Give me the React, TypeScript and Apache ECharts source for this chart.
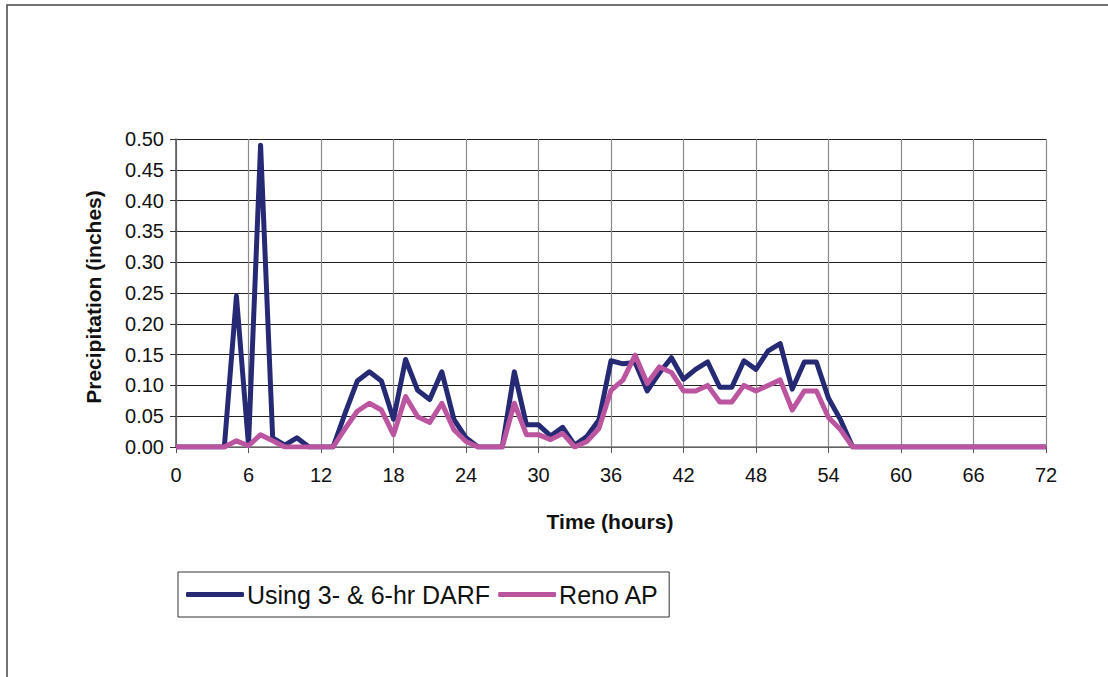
import React, { useEffect, useRef } from "react";
import * as echarts from "echarts";

const hours: number[] = Array.from({ length: 73 }, (_, i) => i);

const darf: number[] = [
  0, 0, 0, 0, 0, 0.245, 0.003, 0.49, 0.015, 0.003, 0.015, 0, 0,
  0, 0.055, 0.107, 0.122, 0.107, 0.045, 0.142, 0.092, 0.077, 0.122, 0.045, 0.015,
  0, 0, 0, 0.122, 0.036, 0.036, 0.018, 0.032, 0.003, 0.017, 0.044, 0.14,
  0.135, 0.137, 0.091, 0.12, 0.145, 0.11, 0.126, 0.138, 0.097, 0.097, 0.14, 0.126,
  0.156, 0.168, 0.094, 0.138, 0.138, 0.079, 0.044, 0,
  0, 0, 0, 0, 0, 0, 0, 0, 0, 0, 0, 0, 0, 0, 0, 0,
];

const reno: number[] = [
  0, 0, 0, 0, 0, 0.01, 0.002, 0.02, 0.01, 0, 0, 0, 0,
  0, 0.03, 0.058, 0.071, 0.06, 0.02, 0.082, 0.049, 0.04, 0.071, 0.028, 0.009,
  0, 0, 0, 0.071, 0.02, 0.02, 0.012, 0.022, 0, 0.009, 0.03, 0.092,
  0.109, 0.149, 0.103, 0.13, 0.121, 0.091, 0.091, 0.1, 0.073, 0.073, 0.1, 0.091,
  0.1, 0.109, 0.06, 0.091, 0.091, 0.048, 0.028, 0,
  0, 0, 0, 0, 0, 0, 0, 0, 0, 0, 0, 0, 0, 0, 0, 0,
];

const seriesNames: string[] = ["Using 3- & 6-hr DARF", "Reno AP"];
const xTitle = "Time (hours)";
const yTitle = "Precipitation (inches)";

const FONT = 'Arial, "Liberation Sans", sans-serif';
const DARK = "#262a74";
const PINK = "#bc55a0";

export default function App() {
  const ref = useRef<HTMLDivElement>(null);

  useEffect(() => {
    if (!ref.current) return;
    const chart = echarts.init(ref.current, undefined, { renderer: "svg" });
    chart.setOption({
      animation: false,
      backgroundColor: "#ffffff",
      textStyle: { fontFamily: FONT },
      grid: { left: 176, top: 139, width: 870, height: 308, containLabel: false },
      xAxis: {
        type: "value",
        min: 0,
        max: 72,
        interval: 6,
        axisLine: { show: true, lineStyle: { color: "#777", width: 1.5 } },
        axisTick: { show: true, length: 6, lineStyle: { color: "#555", width: 1 } },
        axisLabel: { color: "#111", fontSize: 20, margin: 18, fontFamily: FONT },
        splitLine: { show: true, lineStyle: { color: "#8a8a8a", width: 1.2 } },
      },
      yAxis: {
        type: "value",
        min: 0,
        max: 0.5,
        interval: 0.05,
        axisLine: { show: true, lineStyle: { color: "#555", width: 1.5 } },
        axisTick: { show: true, length: 6, lineStyle: { color: "#333", width: 1 } },
        axisLabel: {
          color: "#111",
          fontSize: 20,
          margin: 12,
          fontFamily: FONT,
          formatter: (v: number) => v.toFixed(2),
        },
        splitLine: { show: true, lineStyle: { color: "#222", width: 1.2 } },
      },
      legend: {
        left: 178,
        top: 572,
        orient: "horizontal",
        padding: [10, 10, 10, 8],
        itemGap: 8,
        itemWidth: 58,
        itemHeight: 5,
        icon: "roundRect",
        borderColor: "#333",
        borderWidth: 1,
        textStyle: { fontSize: 25, color: "#111", fontFamily: FONT, padding: [0, 0, 0, -2] },
        data: seriesNames,
      },
      graphic: [
        {
          type: "rect",
          silent: true,
          shape: { x: 7, y: 5, width: 1140, height: 720 },
          style: { fill: "none", stroke: "#444", lineWidth: 1.5 },
        },
        {
          type: "text",
          x: 610,
          y: 521,
          style: {
            text: xTitle,
            font: `bold 21px ${FONT}`,
            fill: "#111",
            textAlign: "center",
            textVerticalAlign: "middle",
          },
        },
        {
          type: "text",
          x: 93,
          y: 297,
          rotation: Math.PI / 2,
          style: {
            text: yTitle,
            font: `bold 21px ${FONT}`,
            fill: "#111",
            textAlign: "center",
            textVerticalAlign: "middle",
          },
        },
      ],
      series: [
        {
          name: seriesNames[0],
          type: "line",
          symbol: "none",
          data: hours.map((h, i) => [h, darf[i]]),
          lineStyle: { color: DARK, width: 5, join: "round" },
          itemStyle: { color: DARK },
        },
        {
          name: seriesNames[1],
          type: "line",
          symbol: "none",
          data: hours.map((h, i) => [h, reno[i]]),
          lineStyle: { color: PINK, width: 5, join: "round" },
          itemStyle: { color: PINK },
        },
      ],
    });
    return () => chart.dispose();
  }, []);

  return (
    <div
      ref={ref}
      style={{ position: "fixed", left: 0, top: 0, width: 1108, height: 677 }}
    />
  );
}
